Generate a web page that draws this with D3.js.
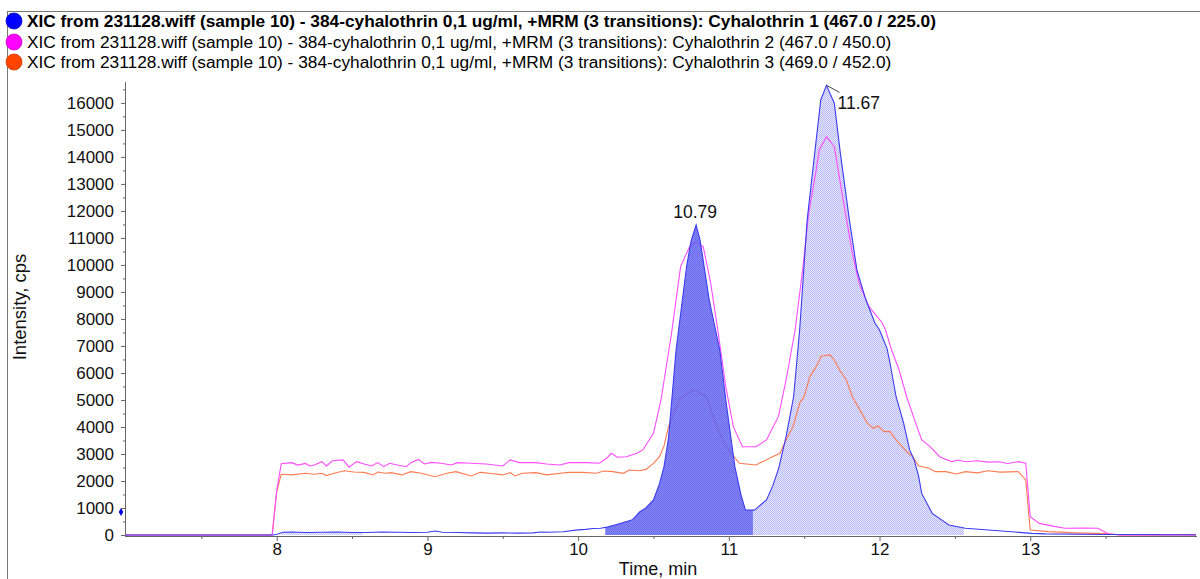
<!DOCTYPE html>
<html><head><meta charset="utf-8">
<script src="https://cdn.jsdelivr.net/npm/d3@7"></script>
<style>body{margin:0;background:#fff;}svg{display:block;font-family:"Liberation Sans",Arial,sans-serif;}</style>
</head><body>
<svg id="chart" width="1200" height="579"></svg>
<script>
// ---------- DATA ----------
const legendLabels = [
  "XIC from 231128.wiff (sample 10) - 384-cyhalothrin 0,1 ug/ml, +MRM (3 transitions): Cyhalothrin 1 (467.0 / 225.0)",
  "XIC from 231128.wiff (sample 10) - 384-cyhalothrin 0,1 ug/ml, +MRM (3 transitions): Cyhalothrin 2 (467.0 / 450.0)",
  "XIC from 231128.wiff (sample 10) - 384-cyhalothrin 0,1 ug/ml, +MRM (3 transitions): Cyhalothrin 3 (469.0 / 452.0)"
];
const xTicks = [8, 9, 10, 11, 12, 13];
const yTicks = [0,1000,2000,3000,4000,5000,6000,7000,8000,9000,10000,11000,12000,13000,14000,15000,16000];
const peakLabels = [{t:10.783, v:11480, text:"10.79"}, {t:11.648, v:16650, text:"11.67"}];

// Cyhalothrin 1 (467.0 / 225.0) – [time, intensity]
const series1 = [[7.0,0],[7.5,0],[7.97,0],[8.0,20],[8.04,100],[8.1,110],[8.2,90],[8.3,100],[8.4,110],[8.5,95],[8.6,90],[8.7,110],[8.8,100],[8.9,90],[9.0,100],[9.05,150],[9.1,100],[9.2,90],[9.3,80],[9.4,70],[9.5,80],[9.6,70],[9.7,80],[9.75,110],[9.8,100],[9.9,120],[10.0,190],[10.05,210],[10.1,240],[10.15,250],[10.2,300],[10.25,380],[10.3,460],[10.36,560],[10.41,860],[10.45,1000],[10.5,1300],[10.54,1900],[10.57,2530],[10.6,3600],[10.65,6850],[10.72,9950],[10.75,10900],[10.783,11480],[10.81,10900],[10.87,8700],[10.94,6850],[10.98,5000],[11.04,2530],[11.08,1500],[11.11,930],[11.17,920],[11.25,1300],[11.29,1800],[11.33,2450],[11.38,3640],[11.43,5120],[11.47,7590],[11.52,11670],[11.57,14140],[11.61,16110],[11.648,16650],[11.70,15990],[11.74,14140],[11.80,11670],[11.85,9815],[11.91,8700],[11.97,7840],[12.0,7590],[12.05,6900],[12.07,6360],[12.11,5120],[12.16,4140],[12.2,3150],[12.23,2780],[12.26,2160],[12.28,1540],[12.35,800],[12.46,370],[12.57,250],[12.79,160],[13.01,60],[13.1,40],[13.5,20],[14.1,10]];

// Cyhalothrin 2 (467.0 / 450.0)
const series2 = [[7.0,0],[7.97,0],[8.0,1650],[8.03,2640],[8.10,2680],[8.14,2590],[8.19,2650],[8.22,2555],[8.25,2590],[8.30,2715],[8.33,2555],[8.37,2750],[8.44,2780],[8.48,2510],[8.53,2715],[8.58,2630],[8.63,2555],[8.67,2680],[8.71,2530],[8.75,2655],[8.80,2590],[8.86,2530],[8.89,2680],[8.94,2800],[8.98,2630],[9.03,2690],[9.09,2655],[9.16,2590],[9.20,2680],[9.29,2655],[9.39,2630],[9.50,2555],[9.55,2780],[9.61,2680],[9.72,2680],[9.79,2630],[9.88,2590],[9.94,2680],[10.06,2680],[10.14,2655],[10.19,2840],[10.22,3025],[10.26,2880],[10.32,2900],[10.39,3025],[10.43,3150],[10.45,3330],[10.50,3766],[10.55,5000],[10.62,7470],[10.68,9937],[10.74,10680],[10.78,10860],[10.83,10680],[10.88,9320],[10.93,7470],[10.98,5490],[11.03,4010],[11.09,3270],[11.18,3270],[11.25,3520],[11.33,4400],[11.38,5740],[11.44,7590],[11.49,9815],[11.53,11915],[11.58,13520],[11.60,14260],[11.648,14750],[11.70,14380],[11.755,12530],[11.82,10430],[11.865,9320],[11.93,8455],[12.02,7840],[12.04,7590],[12.08,6850],[12.13,6110],[12.18,5120],[12.24,4140],[12.28,3520],[12.33,3300],[12.40,2900],[12.44,2800],[12.48,2716],[12.52,2778],[12.57,2715],[12.65,2750],[12.72,2700],[12.79,2715],[12.85,2650],[12.92,2715],[12.97,2655],[13.0,680],[13.06,430],[13.15,330],[13.23,250],[13.35,260],[13.45,250],[13.52,40],[13.6,0],[14.1,0]];

// Cyhalothrin 3 (469.0 / 452.0)
const series3 = [[7.0,0],[7.97,0],[8.0,1600],[8.03,2250],[8.10,2225],[8.19,2284],[8.25,2250],[8.30,2284],[8.33,2200],[8.38,2284],[8.45,2380],[8.51,2333],[8.58,2320],[8.64,2225],[8.67,2333],[8.72,2284],[8.76,2310],[8.83,2225],[8.89,2345],[8.96,2284],[9.05,2160],[9.13,2284],[9.19,2345],[9.29,2185],[9.35,2320],[9.41,2284],[9.50,2225],[9.55,2310],[9.58,2185],[9.63,2284],[9.72,2310],[9.79,2225],[9.88,2284],[9.94,2320],[10.03,2320],[10.12,2284],[10.17,2370],[10.23,2345],[10.30,2284],[10.34,2407],[10.41,2380],[10.45,2430],[10.50,2654],[10.54,2900],[10.57,3300],[10.60,4010],[10.67,5000],[10.72,5250],[10.78,5370],[10.85,5120],[10.92,4010],[10.98,3270],[11.07,2655],[11.18,2590],[11.29,2900],[11.34,3025],[11.38,3520],[11.426,4012],[11.47,4877],[11.50,5123],[11.537,5864],[11.58,6235],[11.614,6630],[11.67,6667],[11.70,6481],[11.735,6111],[11.78,5741],[11.82,5123],[11.87,4630],[11.92,4136],[11.957,3951],[11.99,4037],[12.03,3827],[12.07,3827],[12.11,3519],[12.18,3086],[12.22,2901],[12.26,2556],[12.33,2469],[12.37,2346],[12.44,2346],[12.51,2260],[12.57,2345],[12.65,2300],[12.72,2380],[12.8,2330],[12.92,2345],[12.97,2040],[13.0,185],[13.12,125],[13.3,80],[13.5,50],[13.6,0],[14.1,0]];

// integrated regions of series 1 (time ranges)
const peakRegion1 = [10.18, 11.16];
const peakRegion2 = [11.16, 12.56];
const baseRegion = [8.03, 8.57];

// ---------- CHART ----------
const FONT = '"Liberation Sans",Arial,sans-serif';
const svg = d3.select("#chart");
const x = d3.scaleLinear().domain([7.0, 14.1]).range([126, 1196]);
const y = d3.scaleLinear().domain([0, 16700]).range([535, 84]);

const defs = svg.append("defs");
function checker(id, bg, fg) {
  const p = defs.append("pattern").attr("id", id).attr("width", 2).attr("height", 2).attr("patternUnits", "userSpaceOnUse");
  p.append("rect").attr("width", 2).attr("height", 2).attr("fill", bg);
  p.append("rect").attr("x", 0).attr("y", 0).attr("width", 1).attr("height", 1).attr("fill", fg);
  p.append("rect").attr("x", 1).attr("y", 1).attr("width", 1).attr("height", 1).attr("fill", fg);
}
checker("darkFill", "#7070f2", "#5252ec");
checker("lightFill", "#e8e8fc", "#b8b8f2");

// frame
svg.append("line").attr("x1", 7).attr("x2", 1200).attr("y1", 11.5).attr("y2", 11.5).attr("stroke", "#777");
svg.append("line").attr("x1", 7.5).attr("x2", 7.5).attr("y1", 11).attr("y2", 579).attr("stroke", "#777");
svg.append("rect").attr("x", 9).attr("y", 13).attr("width", 4).attr("height", 2).attr("fill", "#bbb");

// legend
const legendColors = ["#0000ff", "#ff00ff", "#ff4500"];
const rowY = [21, 42, 62];
legendLabels.forEach((lab, i) => {
  svg.append("circle").attr("cx", 14).attr("cy", rowY[i]).attr("r", 8)
    .attr("fill", legendColors[i]).attr("stroke", d3.color(legendColors[i]).darker(0.6)).attr("stroke-width", 0.8);
  svg.append("text").attr("x", 27).attr("y", rowY[i] + 6).attr("font-size", 17.3)
    .attr("font-weight", i === 0 ? "bold" : "normal").attr("fill", "#000").text(lab);
});

function interp(data, t) {
  for (let i = 1; i < data.length; i++) {
    if (data[i][0] >= t) {
      const a = data[i-1], b = data[i];
      return a[1] + (b[1]-a[1]) * (t - a[0]) / (b[0] - a[0]);
    }
  }
  return data[data.length-1][1];
}
function segment(data, r) {
  const pts = [[r[0], interp(data, r[0])]];
  data.forEach(d => { if (d[0] > r[0] && d[0] < r[1]) pts.push(d); });
  pts.push([r[1], interp(data, r[1])]);
  return pts;
}
const area = d3.area().x(d => x(d[0])).y0(y(0)).y1(d => y(d[1]));
const line = d3.line().x(d => x(d[0])).y(d => y(d[1]));

// light fills
svg.append("path").datum(segment(series1, baseRegion)).attr("d", area).attr("fill", "url(#lightFill)").attr("opacity", 0.8);
svg.append("path").datum(segment(series1, peakRegion2)).attr("d", area).attr("fill", "url(#lightFill)");

// lines 2 & 3
svg.append("path").datum(series3).attr("d", line).attr("fill", "none").attr("stroke", "#ff7a50").attr("stroke-width", 1.1);
svg.append("path").datum(series2).attr("d", line).attr("fill", "none").attr("stroke", "#ff4cff").attr("stroke-width", 1.1);

// dark fill over lines
svg.append("path").datum(segment(series1, peakRegion1)).attr("d", area).attr("fill", "url(#darkFill)").attr("opacity", 0.85);

// line 1
svg.append("path").datum(series1).attr("d", line).attr("fill", "none").attr("stroke", "#3b3bf0").attr("stroke-width", 1.1);

// axes
const yAxis = svg.append("g").attr("transform", "translate(125,0)")
  .call(d3.axisLeft(y).tickValues(yTicks).tickSize(4).tickSizeOuter(0).tickPadding(7).tickFormat(d3.format("d")));
const yMinor = svg.append("g").attr("transform", "translate(125,0)")
  .call(d3.axisLeft(y).tickValues(yTicks.map(v => v + 500).filter(v => v < 16700)).tickSize(2).tickSizeOuter(0).tickFormat(""));
yMinor.select(".domain").remove();
yAxis.select(".domain").attr("d", `M0.5,${y(0)+1}V82`);

const xAxis = svg.append("g").attr("transform", "translate(0,536)")
  .call(d3.axisBottom(x).tickValues(xTicks).tickSize(5).tickSizeOuter(0).tickPadding(2).tickFormat(d3.format("d")));
const xMinor = svg.append("g").attr("transform", "translate(0,536)")
  .call(d3.axisBottom(x).tickValues(xTicks.map(v => v - 0.5).concat([13.5])).tickSize(3).tickSizeOuter(0).tickFormat(""));
xMinor.select(".domain").remove();
xAxis.select(".domain").attr("d", "M125,0.5H1197");

[yAxis, yMinor, xAxis, xMinor].forEach(g => {
  g.selectAll("path,line").attr("stroke", "#666");
  g.selectAll("text").attr("font-size", 17).attr("fill", "#111").attr("font-family", FONT);
});

// axis titles
svg.append("text").attr("x", 658).attr("y", 575).attr("text-anchor", "middle").attr("font-size", 18).attr("fill", "#111").text("Time, min");
svg.append("text").attr("transform", "translate(26,307) rotate(-90)").attr("text-anchor", "middle").attr("font-size", 18.5).attr("fill", "#111").text("Intensity, cps");

// small marker on y axis
svg.append("path").attr("d", d3.symbol(d3.symbolDiamond, 18)()).attr("transform", `translate(121,${y(850)})`).attr("fill", "#0000e0");

// peak labels
const pl = peakLabels;
svg.append("text").attr("x", x(pl[0].t) - 1).attr("y", y(pl[0].v) - 7).attr("text-anchor", "middle").attr("font-size", 17.5).attr("fill", "#111").text(pl[0].text);
svg.append("line").attr("x1", x(pl[1].t)).attr("y1", y(pl[1].v)).attr("x2", x(pl[1].t) + 13).attr("y2", y(pl[1].v) + 7).attr("stroke", "#444");
svg.append("text").attr("x", x(pl[1].t) + 11).attr("y", y(pl[1].v) + 24).attr("font-size", 17.5).attr("fill", "#111").text(pl[1].text);
</script>
</body></html>
